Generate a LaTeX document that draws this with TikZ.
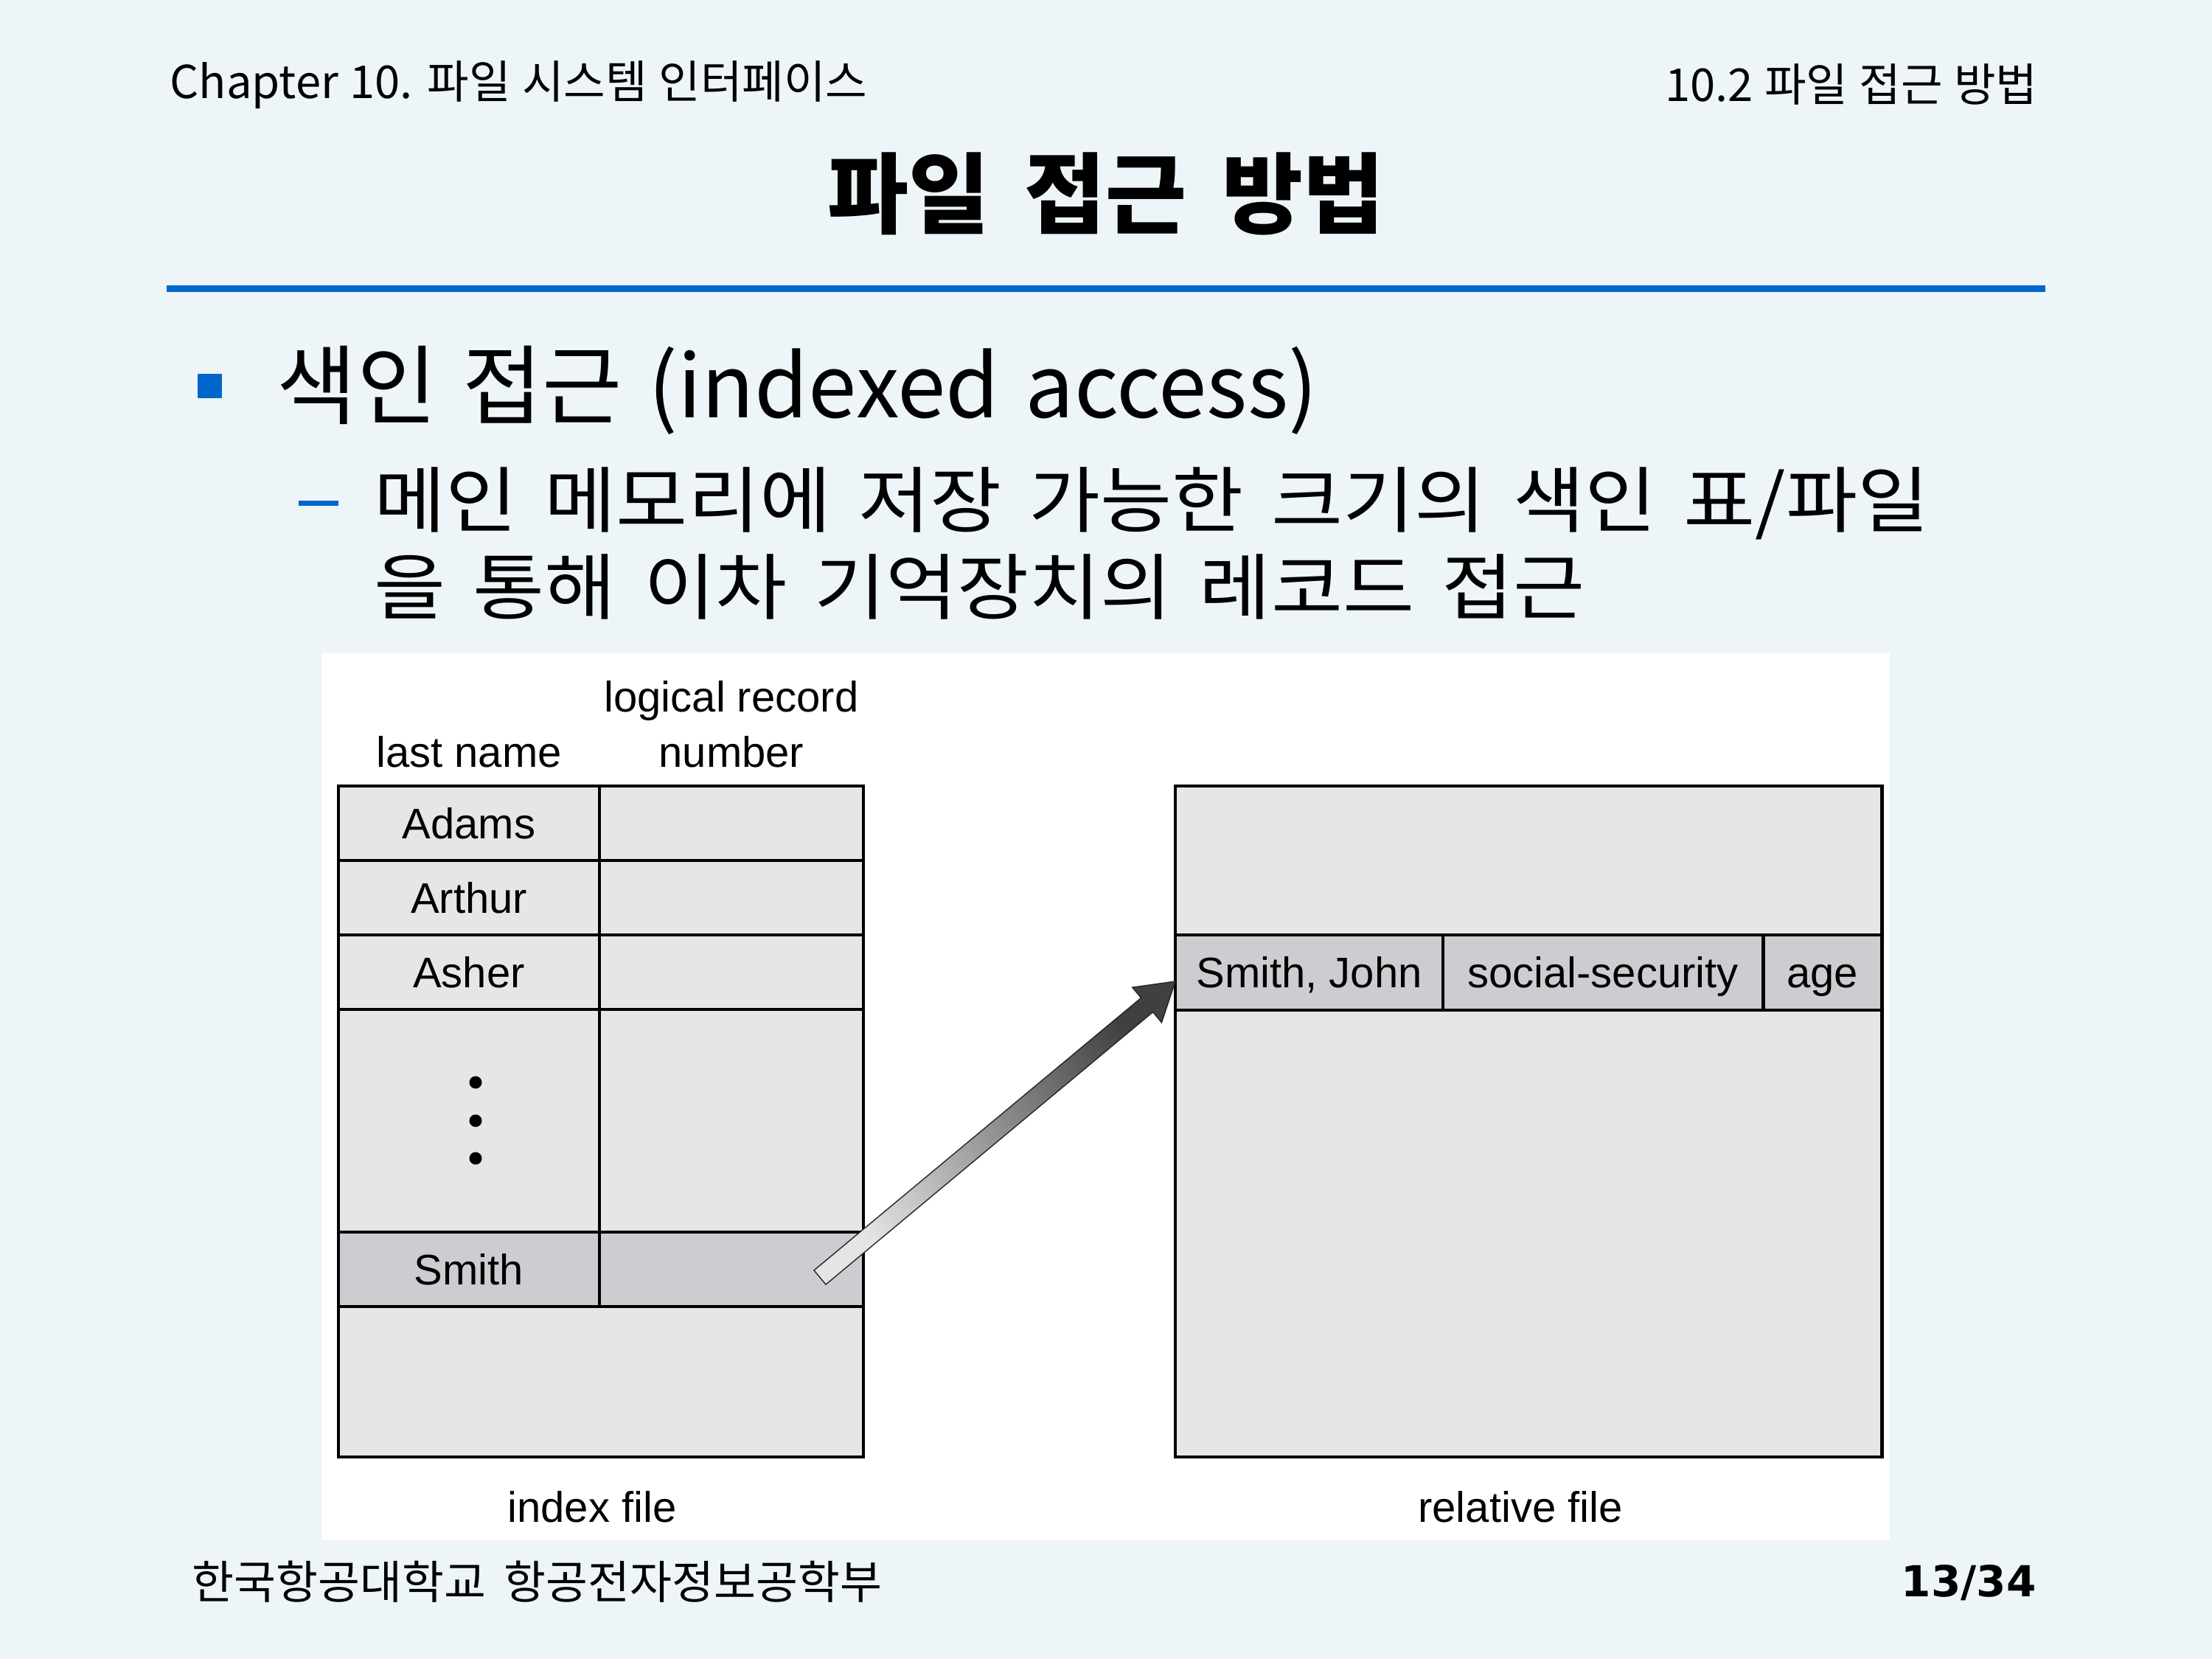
\documentclass[tikz,border=0pt]{standalone}
\usepackage{fontspec}
\setmainfont{Noto Sans CJK KR}
\newfontfamily\widefont{Noto Sans CJK KR}[FakeStretch=1.08]
\newfontfamily\figfont{Liberation Sans}
\newfontfamily\numfont{DejaVu Sans}
\newcommand\gapsize[1]{\spaceskip=#1em\relax}
\usetikzlibrary{positioning,calc}
\definecolor{slidebg}{HTML}{EDF5F8}
\definecolor{ruleblue}{HTML}{0066CC}
\definecolor{cellgray}{HTML}{E6E6E6}
\definecolor{hitgray}{HTML}{CECCD0}
\tikzset{
  cell/.style={draw=black,fill=cellgray,line width=1.4pt,inner sep=0pt,outer sep=0pt,font=\figfont\fontsize{16.5}{19}\selectfont,text height=0.42cm,text depth=0pt,minimum height=1.01cm},
  hit/.style={cell,fill=hitgray},
  lbl/.style={font=\figfont\fontsize{16.5}{21.3}\selectfont,inner sep=0pt,align=center},
  slidetxt/.style={inner sep=0pt,anchor=west},
}
\begin{document}
\begin{tikzpicture}[node distance=0pt, idx/.style={cell,minimum width=3.54cm}, num/.style={cell,minimum width=3.58cm}, rel/.style={cell,minimum width=9.58cm}]
  \useasboundingbox (0,0) rectangle (30,22.5);
  \fill[slidebg] (0,0) rectangle (30,22.5);
  % header and title
  \node[slidetxt,font={\fontsize{17.5}{22}\selectfont\gapsize{0.25}}] (chap) at (2.30,21.35) {Chapter 10. 파일 시스템 인터페이스};
  \node[slidetxt,anchor=east,font={\fontsize{17.5}{22}\selectfont\gapsize{0.25}}] (sect) at (27.64,21.35) {10.2 파일 접근 방법};
  \node[font={\bfseries\fontsize{34}{40}\selectfont\gapsize{0.4}}] (title) at (15.0,19.87) {파일 접근 방법};
  \fill[ruleblue] (2.26,18.535) rectangle (27.74,18.625);
  % bullet text
  \node[fill=ruleblue,minimum size=0.33cm,inner sep=0pt] (sq) at (2.84,17.26) {};
  \node[slidetxt,font={\fontsize{33.5}{40}\selectfont\gapsize{0.3}}] (lvl1) at (3.75,17.21) {색인 접근 (indexed access)};
  \node[fill=ruleblue,minimum width=0.54cm,minimum height=0.07cm,inner sep=0pt] (dash) at (4.32,15.67) {};
  \node[slidetxt,align=left,font={\widefont\fontsize{27.8}{33.3}\selectfont\gapsize{0.38}}] (lvl2) at (5.07,15.13) {메인 메모리에 저장 가능한 크기의 색인 표/파일\\을 통해 이차 기억장치의 레코드 접근};
  % figure panel
  \fill[white] (4.36,1.61) rectangle (25.63,13.64);
  % index file
  \node[idx] (adams) at (6.36,11.335) {Adams};
  \node[num,right=of adams] (adamsn) {};
  \node[idx,below=of adams] (arthur) {Arthur};
  \node[num,right=of arthur] (arthurn) {};
  \node[idx,below=of arthur] (asher) {Asher};
  \node[num,right=of asher] (ashern) {};
  \node[idx,below=of asher,minimum height=3.02cm] (dots) {};
  \node[num,right=of dots,minimum height=3.02cm] (dotsn) {};
  \node[hit,minimum width=3.54cm,below=of dots] (smith) {Smith};
  \node[hit,minimum width=3.58cm,right=of smith] (smithn) {};
  \node[cell,minimum width=7.12cm,minimum height=2.04cm,below=of smith.south west,anchor=north west] (idxbot) {};
  \foreach \dy in {0.52,0,-0.51} \fill ($(dots.center)+(0.09,\dy)$) circle (0.085);
  \node[lbl,above=0.24cm of adams] (lname) {last name};
  \node[lbl,above=0.24cm of adamsn] (lrn) {logical record\\number};
  \node[lbl,below=0.46cm of idxbot,xshift=-0.12cm] (idxlbl) {index file};
  % relative file
  \node[rel,minimum height=2.02cm] (reltop) at (20.73,10.83) {};
  \node[hit,minimum width=3.63cm,minimum height=1.02cm,below=of reltop.south west,anchor=north west] (sj) {Smith, John};
  \node[hit,minimum width=4.34cm,minimum height=1.02cm,right=of sj] (ss) {social-security};
  \node[hit,minimum width=1.61cm,minimum height=1.02cm,right=of ss] (age) {age};
  \node[rel,minimum height=6.06cm,below=of sj.south west,anchor=north west] (relbot) {};
  \node[lbl,below=0.46cm of relbot,xshift=-0.11cm] (rellbl) {relative file};
  % pointer from index entry to record
  \coordinate (tl) at ($(smithn.center)+(1.20,-0.11)$);
  \coordinate (hd) at ($(sj.west)+(0,-0.12)$);
  \coordinate (hb) at ($(hd)!0.5cm!(tl)$);
  \draw[draw=black!85,line width=0.4pt,top color=black!75,bottom color=black!10,shading angle=-50]
    ($(tl)!0.125cm!-90:(hd)$) -- ($(tl)!0.125cm!90:(hd)$) -- ($(hb)!0.125cm!90:(hd)$)
    -- ($(hb)!0.31cm!90:(hd)$) -- (hd) -- ($(hb)!0.31cm!-90:(hd)$) -- ($(hb)!0.125cm!-90:(hd)$) -- cycle;
  % footer
  \node[slidetxt,font={\fontsize{17.6}{20}\selectfont\gapsize{0.4}}] (uni) at (2.60,1.05) {한국항공대학교 항공전자정보공학부};
  \node[slidetxt,anchor=east,font=\numfont\bfseries\fontsize{16.5}{20}\selectfont] (pg) at (27.62,1.03) {13/34};
\end{tikzpicture}
\end{document}
